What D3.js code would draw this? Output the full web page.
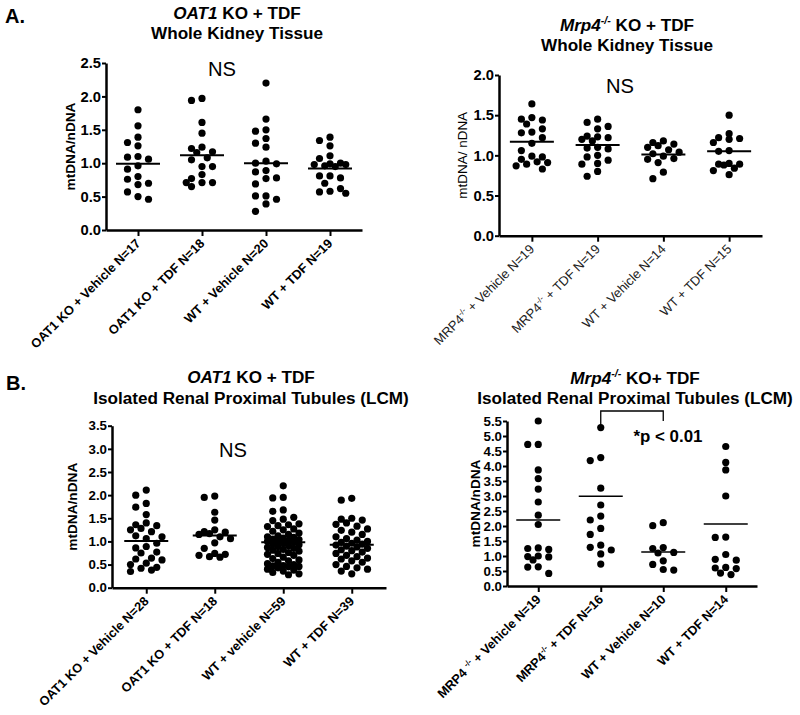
<!DOCTYPE html>
<html>
<head>
<meta charset="utf-8">
<script src="https://cdn.jsdelivr.net/npm/d3@7"></script>
<style>
    body { margin: 0; background: #fff; }
    svg { font-family: "Liberation Sans", Arial, sans-serif; }
</style>
</head>
<body>
<script>
//wrap everything in an anonymous function so nothing is global
(function () {

    //---- data ----
    //[..] = italic, {..} = superscript
    var a1Labels = ["OAT1 KO + Vehicle N=17", "OAT1 KO + TDF N=18", "WT + Vehicle N=20", "WT + TDF N=19"];
    var a1Values = [
        [1.80, 1.56, 1.39, 1.31, 1.26, 1.10, 1.09, 1.06, 0.96, 0.91, 0.80, 0.76, 0.70, 0.68, 0.57, 0.50, 0.46],
        [1.97, 1.94, 1.61, 1.45, 1.24, 1.22, 1.17, 1.16, 1.08, 1.05, 0.95, 0.95, 0.83, 0.77, 0.71, 0.71, 0.71, 0.65],
        [2.20, 1.66, 1.50, 1.48, 1.37, 1.30, 1.24, 1.03, 1.00, 0.99, 0.89, 0.87, 0.78, 0.77, 0.69, 0.51, 0.51, 0.46, 0.39, 0.28],
        [1.39, 1.34, 1.26, 1.11, 1.07, 1.00, 0.99, 0.98, 0.98, 0.96, 0.95, 0.81, 0.81, 0.78, 0.70, 0.62, 0.58, 0.57, 0.55]
    ];
    var a1Means = [0.99, 1.12, 1.00, 0.92];

    var a2Labels = ["MRP4{-/-} + Vehicle N=19", "MRP4{-/-} + TDF N=19", "WT + Vehicle N=14", "WT + TDF N=15"];
    var a2Values = [
        [1.64, 1.47, 1.45, 1.44, 1.39, 1.33, 1.29, 1.28, 1.22, 1.15, 1.06, 0.99, 0.98, 0.95, 0.92, 0.91, 0.89, 0.87, 0.83],
        [1.45, 1.41, 1.36, 1.33, 1.24, 1.23, 1.22, 1.20, 1.18, 1.10, 1.09, 1.08, 1.00, 0.98, 0.94, 0.90, 0.89, 0.80, 0.74],
        [1.18, 1.16, 1.14, 1.12, 1.10, 1.07, 1.04, 1.02, 0.99, 0.96, 0.95, 0.91, 0.79, 0.71],
        [1.50, 1.27, 1.22, 1.21, 1.20, 1.16, 1.06, 1.05, 0.90, 0.89, 0.89, 0.88, 0.84, 0.81, 0.76]
    ];
    var a2Means = [1.17, 1.13, 1.01, 1.05];

    var b1Labels = ["OAT1 KO + Vehicle N=28", "OAT1 KO + TDF N=18", "WT + vehicle N=59", "WT + TDF N=39"];
    var b1Values = [
        [2.11, 2.00, 1.82, 1.74, 1.58, 1.40, 1.36, 1.34, 1.28, 1.25, 1.21, 1.12, 1.10, 1.06, 0.96, 0.89, 0.86, 0.77, 0.75, 0.64, 0.62, 0.60, 0.53, 0.50, 0.44, 0.42, 0.38, 0.35],
        [1.98, 1.95, 1.63, 1.46, 1.25, 1.21, 1.20, 1.17, 1.15, 1.10, 1.06, 0.97, 0.85, 0.74, 0.72, 0.70, 0.67, 0.66],
        [2.20, 1.95, 1.94, 1.68, 1.65, 1.52, 1.48, 1.45, 1.38, 1.36, 1.34, 1.32, 1.27, 1.25, 1.22, 1.18, 1.15, 1.12, 1.10, 1.09,
         1.07, 1.05, 1.04, 1.02, 1.01, 1.00, 0.99, 0.97, 0.95, 0.93, 0.91, 0.89, 0.87, 0.85, 0.83, 0.81, 0.79, 0.76, 0.74, 0.72,
         0.70, 0.66, 0.63, 0.60, 0.58, 0.55, 0.52, 0.50, 0.48, 0.47, 0.46, 0.45, 0.43, 0.40, 0.38, 0.36, 0.33, 0.30, 0.28],
        [1.93, 1.89, 1.50, 1.48, 1.46, 1.40, 1.37, 1.33, 1.27, 1.24, 1.20, 1.15, 1.10, 1.06, 1.03, 1.00, 0.98, 0.96, 0.94, 0.92,
         0.90, 0.88, 0.85, 0.82, 0.80, 0.77, 0.74, 0.70, 0.67, 0.64, 0.62, 0.58, 0.55, 0.50, 0.46, 0.43, 0.40, 0.36, 0.30]
    ];
    var b1Means = [1.01, 1.13, 0.98, 0.93];

    var b2Labels = ["MRP4 {-/-} + Vehicle N=19", "MRP4{-/-} + TDF N=16", "WT + Vehicle N=10", "WT + TDF N=14"];
    var b2Values = [
        [5.50, 4.72, 4.72, 3.87, 3.58, 3.23, 2.80, 2.36, 2.05, 1.27, 1.25, 1.22, 1.00, 0.98, 0.97, 0.87, 0.64, 0.63, 0.42],
        [5.28, 4.28, 4.18, 3.26, 2.70, 2.33, 2.20, 1.92, 1.72, 1.36, 1.29, 1.20, 1.07, 0.73],
        [2.11, 2.01, 1.28, 1.25, 1.12, 1.10, 0.84, 0.72, 0.55, 0.53],
        [4.65, 4.12, 3.87, 3.00, 1.63, 1.62, 1.05, 0.89, 0.86, 0.62, 0.60, 0.58, 0.43, 0.38]
    ];
    var b2Means = [2.20, 2.99, 1.13, 2.07];

    var width = 800,
        height = 715;

    var svg = d3.select("body")
        .append("svg")
        .attr("width", width)
        .attr("height", height);

    //pick font sizes so that sample strings get the widths they have in the figure
    var probe = svg.append("text").attr("font-size", 100).attr("x", -1000);
    function sizeFor(str, weight, target) {
        probe.attr("font-weight", weight).text(str);
        return 100 * target / probe.node().getComputedTextLength();
    }
    var titleSize = sizeFor("Whole Kidney Tissue", "bold", 172),
        labelSize = sizeFor("OAT1 KO + Vehicle N=17", "bold", 149),
        labelSizeReg = sizeFor("WT + TDF N=15", "normal", 95),
        yTitleSize = sizeFor("mtDNA/nDNA", "bold", 88),
        yTitleSizeReg = sizeFor("mtDNA/ nDNA", "normal", 87),
        tickSizeA = sizeFor("2.5", "bold", 20.5),
        tickSizeB = sizeFor("5.5", "bold", 18.5),
        nsSize = sizeFor("NS", "normal", 28),
        pSize = sizeFor("*p < 0.01", "bold", 69),
        letterSize = sizeFor("A.", "bold", 20);
    probe.remove();

    //panel frames (pixel layout of the figure)
    var panels = [
        { labels: a1Labels, values: a1Values, means: a1Means, yMax: 2.5,
          x0: 106, x1: 362, yTop: 63, yBot: 230, tickSize: tickSizeA,
          title: ["[OAT1] KO + TDF", "Whole Kidney Tissue"], titleX: 237, titleY: [19, 39],
          yTitle: "mtDNA/nDNA", yTitleX: 70, yTitleWeight: "bold", labelWeight: "bold",
          note: "NS", noteX: 222, noteY: 76 },
        { labels: a2Labels, values: a2Values, means: a2Means, yMax: 2.0,
          x0: 499, x1: 762, yTop: 75, yBot: 235.7, tickSize: tickSizeA,
          title: ["[Mrp4]{-/-} KO + TDF", "Whole Kidney Tissue"], titleX: 627, titleY: [31, 51],
          yTitle: "mtDNA/ nDNA", yTitleX: 462, yTitleWeight: "normal", labelWeight: "normal",
          note: "NS", noteX: 620, noteY: 93 },
        { labels: b1Labels, values: b1Values, means: b1Means, yMax: 3.5,
          x0: 112, x1: 386, yTop: 425.7, yBot: 587.7, tickSize: tickSizeB,
          title: ["[OAT1] KO + TDF", "Isolated Renal Proximal Tubules (LCM)"], titleX: 251, titleY: [383, 404],
          yTitle: "mtDNA/nDNA", yTitleX: 72, yTitleWeight: "bold", labelWeight: "bold",
          note: "NS", noteX: 233, noteY: 457 },
        { labels: b2Labels, values: b2Values, means: b2Means, yMax: 5.5,
          x0: 507, x1: 757, yTop: 421, yBot: 586, meanWidth: 1.5, tickSize: tickSizeB,
          title: ["[Mrp4]{-/-} KO+ TDF", "Isolated Renal Proximal Tubules (LCM)"], titleX: 635, titleY: [384, 404],
          yTitle: "mtDNA/nDNA", yTitleX: 475, yTitleWeight: "bold", labelWeight: "bold",
          bracket: [1, 2], note: "*p < 0.01", noteX: 668, noteY: 442, noteWeight: "bold", noteSize: pSize }
    ];

    //panel letters
    svg.append("text").attr("x", 5).attr("y", 23)
        .attr("font-size", letterSize).attr("font-weight", "bold").text("A.");
    svg.append("text").attr("x", 6).attr("y", 390)
        .attr("font-size", letterSize).attr("font-weight", "bold").text("B.");

    panels.forEach(drawPanel);

    //write a string with [italic] and {superscript} runs into a text element
    function richText(sel, str, supSize, supShift, supItalic) {
        var tokens = str.split(/(\[[^\]]*\]|\{[^}]*\})/).filter(function (s) { return s.length; });
        var raised = false;
        tokens.forEach(function (tok) {
            var ts = sel.append("tspan");
            if (tok[0] == "{") {
                ts.text(tok.slice(1, -1))
                    .attr("font-size", supSize)
                    .attr("dy", -supShift);
                if (supItalic) ts.style("font-style", "italic");
                raised = true;
            } else {
                if (tok[0] == "[") {
                    ts.text(tok.slice(1, -1)).style("font-style", "italic");
                } else {
                    ts.text(tok);
                }
                if (raised) { ts.attr("dy", supShift); raised = false; }
            }
        });
    }

    //place points of one group in columns so they do not overlap
    function swarm(vals, y, cx, step, r) {
        var slots = [0, -1, 1, -0.5, 0.5, -1.5, 1.5];
        var placed = [];
        vals.slice().sort(function (a, b) { return b - a; }).forEach(function (v) {
            var py = y(v), best = null, bestD = -1;
            for (var i = 0; i < slots.length; i++) {
                var px = cx + slots[i] * step;
                var dmin = Infinity;
                placed.forEach(function (p) {
                    var d = Math.hypot(p.x - px, p.y - py);
                    if (d < dmin) dmin = d;
                });
                if (dmin >= 2 * r + 0.3) { best = px; break; }
                if (dmin > bestD) { bestD = dmin; best = px; }
            }
            placed.push({ x: best, y: py, v: v });
        });
        return placed;
    }

    function drawPanel(p) {
        var g = svg.append("g");
        var lSize = p.labelWeight == "bold" ? labelSize : labelSizeReg;

        //scales
        var x = d3.scalePoint()
            .domain(p.labels)
            .range([p.x0, p.x1])
            .padding(0.5);

        var y = d3.scaleLinear()
            .domain([0, p.yMax])
            .range([p.yBot, p.yTop]);

        //title lines
        p.title.forEach(function (line, i) {
            var t = g.append("text")
                .attr("x", p.titleX)
                .attr("y", p.titleY[i])
                .attr("text-anchor", "middle")
                .attr("font-size", titleSize)
                .attr("font-weight", "bold");
            richText(t, line, titleSize * 0.62, titleSize * 0.4, true);
        });

        //y axis
        var yAxis = d3.axisLeft(y)
            .tickValues(d3.range(0, p.yMax + 0.001, 0.5))
            .tickFormat(d3.format(".1f"))
            .tickSize(4)
            .tickSizeOuter(0)
            .tickPadding(1);

        var ya = g.append("g")
            .attr("transform", "translate(" + p.x0 + ",0)")
            .call(yAxis);
        ya.select(".domain").attr("stroke-width", 2.5);
        ya.selectAll(".tick line").attr("stroke-width", 2);
        ya.selectAll(".tick text")
            .attr("font-size", p.tickSize)
            .attr("font-weight", "bold")
            .attr("font-family", "Liberation Sans, Arial, sans-serif")
            .attr("fill", "#000");

        //x axis
        var xAxis = d3.axisBottom(x)
            .tickSize(6)
            .tickSizeOuter(0)
            .tickFormat("");

        var xa = g.append("g")
            .attr("transform", "translate(0," + p.yBot + ")")
            .call(xAxis);
        xa.select(".domain").attr("stroke-width", 2.5);
        xa.selectAll(".tick line").attr("stroke-width", 2);

        //rotated category labels
        p.labels.forEach(function (lab) {
            var t = g.append("text")
                .attr("transform", "translate(" + x(lab) + "," + (p.yBot + 11) + ") rotate(-45)")
                .attr("text-anchor", "end")
                .attr("dy", "0.35em")
                .attr("font-size", lSize)
                .attr("font-weight", p.labelWeight)
                .attr("fill", p.labelWeight == "bold" ? "#000" : "#222");
            richText(t, lab, lSize * 0.62, lSize * 0.4, false);
        });

        //y axis title
        g.append("text")
            .attr("transform", "translate(" + p.yTitleX + "," + ((p.yTop + p.yBot) / 2) + ") rotate(-90)")
            .attr("text-anchor", "middle")
            .attr("dy", "0.35em")
            .attr("font-size", p.yTitleWeight == "bold" ? yTitleSize : yTitleSizeReg)
            .attr("font-weight", p.yTitleWeight)
            .text(p.yTitle);

        //points and mean lines
        p.labels.forEach(function (lab, i) {
            var pts = swarm(p.values[i], y, x(lab), 10.5, 3.6);
            g.selectAll(".dot" + i)
                .data(pts)
                .enter()
                .append("circle")
                .attr("cx", function (d) { return d.x; })
                .attr("cy", function (d) { return d.y; })
                .attr("r", 3.6)
                .attr("fill", "#000");

            g.append("line")
                .attr("x1", x(lab) - 22)
                .attr("x2", x(lab) + 22)
                .attr("y1", y(p.means[i]))
                .attr("y2", y(p.means[i]))
                .attr("stroke", "#000")
                .attr("stroke-width", p.meanWidth || 2);
        });

        //significance bracket
        if (p.bracket) {
            var bx1 = x(p.labels[p.bracket[0]]),
                bx2 = x(p.labels[p.bracket[1]]);
            g.append("path")
                .attr("d", "M" + bx1 + "," + (p.yTop + 10) + "V" + (p.yTop - 10) + "H" + bx2 + "V" + (p.yTop))
                .attr("fill", "none")
                .attr("stroke", "#000")
                .attr("stroke-width", 1.3);
        }

        //NS / p value
        g.append("text")
            .attr("x", p.noteX)
            .attr("y", p.noteY)
            .attr("text-anchor", "middle")
            .attr("font-size", p.noteSize || nsSize)
            .attr("font-weight", p.noteWeight || "normal")
            .text(p.note);
    }

})();
</script>
</body>
</html>
